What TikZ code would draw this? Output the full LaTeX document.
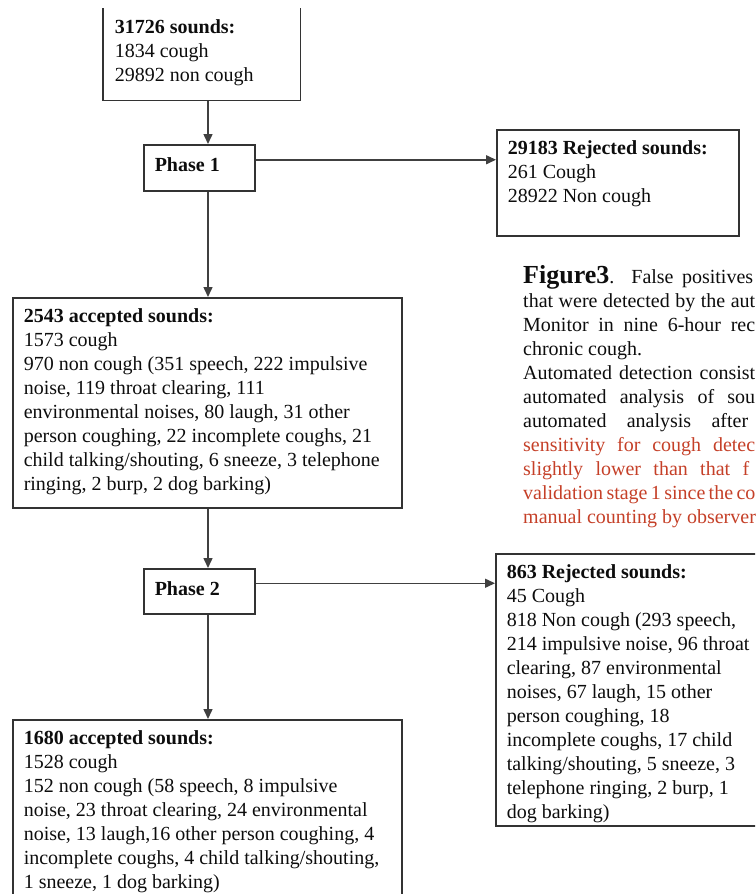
\documentclass[tikz,border=0pt]{standalone}
\usepackage{fontspec}
\setmainfont{Liberation Serif}
\usepackage{xcolor}
\usepackage{tikz}
\usetikzlibrary{arrows.meta}

\definecolor{capred}{RGB}{197,64,40}
\newcommand{\boxtxt}[3]{\parbox[t][#2][t]{#1}{\raggedright\strut #3}}
\newcommand{\capline}[2]{\makebox[#1][s]{#2}}

\begin{document}
\begin{tikzpicture}[x=1pt,y=-1pt,
		frame/.style={draw=black!80, line width=1.5pt},
		sbox/.style={frame, anchor=north west, inner xsep=11pt, inner ysep=8pt, font=\fontsize{20}{24}\selectfont, text=black!95},
		flow/.style={draw=black!75, line width=1.5pt, -{Triangle[length=10pt,width=9pt]}}]
	\useasboundingbox (0,0) rectangle (755,894);
	\clip (0,0) rectangle (755,894);
	\coordinate (spine) at (208,0);

	\node[sbox, draw=none] (total) at (103,8)
	{
		\boxtxt{174pt}{75pt}{\textbf{31726 sounds:}\\ 1834 cough\\ 29892 non cough}
	};
	\draw[frame] (total.north west) |- (total.south east) -- (total.north east);

	\node[sbox, inner ysep=10pt] (phase1) at (143,144) {\boxtxt{89pt}{26pt}{\textbf{Phase 1}}};

	\node[sbox] (reject1) at (496,129)
	{
		\boxtxt{220pt}{90pt}{\textbf{29183 Rejected sounds:}\\ 261 Cough\\ 28922 Non cough}
	};

	\node[sbox] (accept1) at (12,297)
	{
		\boxtxt{367pt}{194pt}{\textbf{2543 accepted sounds:}\\
			1573 cough\\
			970 non cough (351 speech, 222 impulsive\\
			noise, 119 throat clearing, 111\\
			environmental noises, 80 laugh, 31 other\\
			person coughing, 22 incomplete coughs, 21\\
			child talking/shouting, 6 sneeze, 3 telephone\\
			ringing, 2 burp, 2 dog barking)}
	};

	\node[sbox, inner ysep=10pt] (phase2) at (143,568) {\boxtxt{89pt}{25pt}{\textbf{Phase 2}}};

	\node[sbox] (reject2) at (495,553)
	{
		\boxtxt{253pt}{256pt}{\textbf{863 Rejected sounds:}\\
			45 Cough\\
			818 Non cough (293 speech,\\
			214 impulsive noise, 96 throat\\
			clearing, 87 environmental\\
			noises, 67 laugh, 15 other\\
			person coughing, 18\\
			incomplete coughs, 17 child\\
			talking/shouting, 5 sneeze, 3\\
			telephone ringing, 2 burp, 1\\
			dog barking)}
	};

	\node[sbox] (accept2) at (12,719)
	{
		\boxtxt{367pt}{175pt}{\textbf{1680 accepted sounds:}\\
			1528 cough\\
			152 non cough (58 speech, 8 impulsive\\
			noise, 23 throat clearing, 24 environmental\\
			noise, 13 laugh,16 other person coughing, 4\\
			incomplete coughs, 4 child talking/shouting,\\
			1 sneeze, 1 dog barking)}
	};

	\node[anchor=base west, inner sep=0pt, font=\fontsize{20}{24}\selectfont, text=black!95] (caption) at (523,283)
	{
		\parbox[t]{240pt}{
			\capline{230pt}{{\fontsize{26}{24}\selectfont\bfseries Figure3}. False positives}\\
			\capline{232pt}{that were detected by the aut}\\
			\capline{232pt}{Monitor in nine 6-hour rec}\\
			chronic cough.\\
			\capline{232pt}{Automated detection consist}\\
			\capline{232pt}{automated analysis of sou}\\
			\capline{225pt}{automated analysis after}\\
			\color{capred}
			\capline{232pt}{sensitivity for cough detec}\\
			\capline{226pt}{slightly lower than that f}\\
			\capline{232pt}{validation stage 1 since the co}\\
			manual counting by observer
		}
	};

	\draw[flow] (total.south -| spine) -- (phase1.north -| spine);
	\draw[flow] (phase1.south -| spine) -- (accept1.north -| spine);
	\draw[flow] ([yshift=8pt]phase1.east) -- ([yshift=8pt]phase1.east -| reject1.west);
	\draw[flow] (accept1.south -| spine) -- (phase2.north -| spine);
	\draw[flow] (phase2.south -| spine) -- (accept2.north -| spine);
	\draw[flow] ([yshift=8pt]phase2.east) -- ([yshift=8pt]phase2.east -| reject2.west);
\end{tikzpicture}
\end{document}
